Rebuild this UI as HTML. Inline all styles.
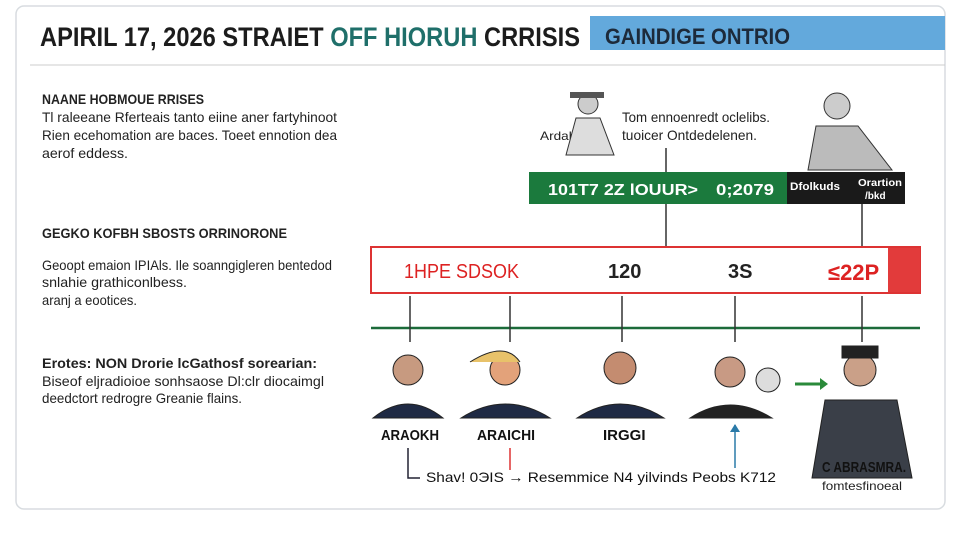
<!DOCTYPE html>
<html><head><meta charset="utf-8"><style>
body{margin:0;width:960px;height:528px;background:#fff;overflow:hidden;font-family:"Liberation Sans",sans-serif}
</style></head><body>
<svg width="960" height="528" viewBox="0 0 960 528" xmlns="http://www.w3.org/2000/svg" font-family="Liberation Sans, sans-serif">
<rect x="16" y="6" width="929" height="503" rx="8" fill="#fff" stroke="#d8dce0" stroke-width="1.5"/>
<rect x="590" y="16" width="355" height="34" fill="#63a9dc"/>
<text x="40" y="46" font-size="27" font-weight="bold" fill="#1c1c1c" textLength="540" lengthAdjust="spacingAndGlyphs">APIRIL 17, 2026  STRAIET <tspan fill="#1f6f6a">OFF HIORUH</tspan> CRRISIS</text>
<text x="605" y="44" font-size="22" font-weight="bold" fill="#1d2a3a" textLength="185" lengthAdjust="spacingAndGlyphs">GAINDIGE ONTRIO</text>
<line x1="30" y1="65" x2="945" y2="65" stroke="#ccc"/>
<g font-size="14" fill="#222">
<text x="42" y="104" font-weight="bold" textLength="162" lengthAdjust="spacingAndGlyphs">NAANE HOBMOUE RRISES</text>
<text x="42" y="122" textLength="295" lengthAdjust="spacingAndGlyphs">Tl raleeane Rferteais tanto eiine aner fartyhinoot</text>
<text x="42" y="140" textLength="295" lengthAdjust="spacingAndGlyphs">Rien ecehomation are baces. Toeet ennotion dea</text>
<text x="42" y="158" textLength="86" lengthAdjust="spacingAndGlyphs">aerof eddess.</text>
<text x="42" y="238" font-weight="bold" textLength="245" lengthAdjust="spacingAndGlyphs">GEGKO KOFBH SBOSTS ORRINORONE</text>
<text x="42" y="270" textLength="290" lengthAdjust="spacingAndGlyphs">Geoopt emaion IPIAls. Ile soanngigleren bentedod</text>
<text x="42" y="287" textLength="145" lengthAdjust="spacingAndGlyphs">snlahie grathiconlbess.</text>
<text x="42" y="305" textLength="95" lengthAdjust="spacingAndGlyphs">aranj a eootices.</text>
<text x="42" y="368" font-weight="bold" textLength="275" lengthAdjust="spacingAndGlyphs">Erotes:  NON Drorie lcGathosf sorearian:</text>
<text x="42" y="386" textLength="282" lengthAdjust="spacingAndGlyphs">Biseof eljradioioe sonhsaose Dl:clr diocaimgl</text>
<text x="42" y="403" textLength="200" lengthAdjust="spacingAndGlyphs">deedctort redrogre Greanie flains.</text>
<text x="622" y="122" textLength="148" lengthAdjust="spacingAndGlyphs">Tom ennoenredt oclelibs.</text>
<text x="622" y="140" textLength="135" lengthAdjust="spacingAndGlyphs">tuoicer Ontdedelenen.</text>
<text x="540" y="140" font-size="12" textLength="62" lengthAdjust="spacingAndGlyphs">Ardabiohe</text>
</g>
<!-- top figures -->
<g fill="#444">
<circle cx="588" cy="104" r="10" fill="#ccc" stroke="#333"/>
<rect x="570" y="92" width="34" height="6" fill="#555"/>
<path d="M566 155 L576 118 L600 118 L614 155 Z" fill="#ddd" stroke="#333"/>
<circle cx="837" cy="106" r="13" fill="#ccc" stroke="#333"/>
<path d="M808 170 L816 126 L858 126 L892 170 Z" fill="#bbb" stroke="#333"/>
</g>
<line x1="666" y1="148" x2="666" y2="246" stroke="#333" stroke-width="1.5"/>
<line x1="862" y1="198" x2="862" y2="246" stroke="#333" stroke-width="1.5"/>
<rect x="529" y="172" width="258" height="32" fill="#1b7a3d"/>
<rect x="787" y="172" width="118" height="32" fill="#1a1a1a"/>
<g font-size="16" font-weight="bold" fill="#fff">
<text x="548" y="195" textLength="150" lengthAdjust="spacingAndGlyphs">101T7   2Z   lOUUR&gt;</text>
<text x="716" y="195" textLength="58" lengthAdjust="spacingAndGlyphs">0;2079</text>
<text x="790" y="190" font-size="11" textLength="50" lengthAdjust="spacingAndGlyphs">Dfolkuds</text>
<text x="858" y="186" font-size="10" textLength="44" lengthAdjust="spacingAndGlyphs">Orartion</text>
<text x="865" y="199" font-size="10">/bkd</text>
</g>
<rect x="371" y="247" width="549" height="46" fill="#fff" stroke="#d33" stroke-width="2"/>
<rect x="888" y="248" width="32" height="44" fill="#e23b3b"/>
<text x="404" y="278" font-size="20" fill="#d22" textLength="115" lengthAdjust="spacingAndGlyphs">1HPE  SDSOK</text>
<text x="608" y="278" font-size="20" fill="#222" font-weight="bold">120</text>
<text x="728" y="278" font-size="20" fill="#222" font-weight="bold">3S</text>
<text x="828" y="280" font-size="22" fill="#d22" font-weight="bold">≤22P</text>
<line x1="371" y1="328" x2="920" y2="328" stroke="#1c6b3a" stroke-width="2.5"/>
<g stroke="#333" stroke-width="1.5">
<line x1="410" y1="296" x2="410" y2="342"/><line x1="510" y1="296" x2="510" y2="342"/>
<line x1="622" y1="296" x2="622" y2="342"/><line x1="735" y1="296" x2="735" y2="342"/>
<line x1="862" y1="296" x2="862" y2="342"/>
</g>
<!-- people -->
<g stroke="#222">
<circle cx="408" cy="370" r="15" fill="#c79a80"/><path d="M373 418 Q408 390 443 418 Z" fill="#1f2a44"/>
<circle cx="505" cy="370" r="15" fill="#e3a27a"/><path d="M470 362 Q505 340 520 362" fill="#e8c26a"/><path d="M461 418 Q505 390 550 418 Z" fill="#1f2a44"/>
<circle cx="620" cy="368" r="16" fill="#c48c70"/><path d="M577 418 Q620 390 664 418 Z" fill="#1f2a44"/>
<circle cx="730" cy="372" r="15" fill="#c89a84"/><path d="M690 418 Q730 392 772 418 Z" fill="#222"/>
<circle cx="768" cy="380" r="12" fill="#ddd"/>
<circle cx="860" cy="370" r="16" fill="#caa088"/><rect x="842" y="346" width="36" height="12" fill="#222"/>
<path d="M812 478 L825 400 L897 400 L912 478 Z" fill="#3a3f48"/>
</g>
<path d="M795 384 L820 384" stroke="#2a8a3a" stroke-width="3"/><path d="M820 378 L828 384 L820 390Z" fill="#2a8a3a"/>
<g font-size="15" font-weight="bold" fill="#111">
<text x="381" y="440" textLength="58" lengthAdjust="spacingAndGlyphs">ARAOKH</text>
<text x="477" y="440" textLength="58" lengthAdjust="spacingAndGlyphs">ARAICHI</text>
<text x="603" y="440">IRGGI</text>
<text x="822" y="472" textLength="84" lengthAdjust="spacingAndGlyphs">C ABRASMRA.</text>
</g>
<text x="822" y="490" font-size="12" fill="#222" textLength="80" lengthAdjust="spacingAndGlyphs">fomtesfinoeal</text>
<line x1="735" y1="425" x2="735" y2="468" stroke="#2a7aa8" stroke-width="1.5"/>
<path d="M730 432 L735 424 L740 432Z" fill="#2a7aa8"/>
<path d="M408 448 L408 478 L420 478" stroke="#223" fill="none" stroke-width="1.5"/>
<path d="M510 448 L510 470" stroke="#d33" stroke-width="1.5"/>
<text x="426" y="482" font-size="14" fill="#111" textLength="350" lengthAdjust="spacingAndGlyphs">Shav! 0ЭIS  → Resemmice  N4 yilvinds  Peobs K712</text>
</svg>
</body></html>
